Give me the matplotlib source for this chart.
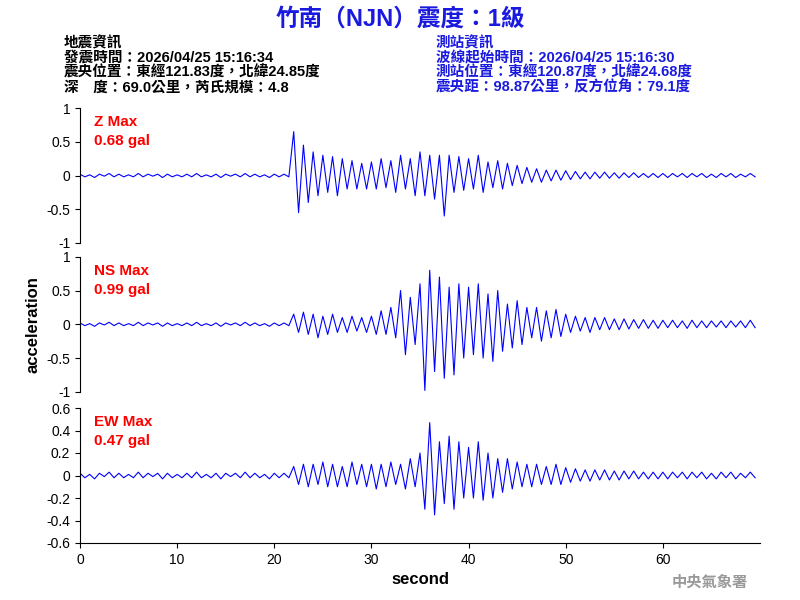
import numpy as np
import matplotlib
matplotlib.use("Agg")
import matplotlib.pyplot as plt

plt.rcParams['font.family'] = ['Liberation Sans', 'Noto Sans CJK TC', 'DejaVu Sans']

dt = 0.5
quiet = [0.02,-0.02,0.01,-0.03,0.02,-0.01,0.03,-0.02,0.02,-0.02,0.01,-0.02,0.03,-0.02,0.02,-0.01,0.02,-0.03,0.02,-0.02,0.01,-0.02,
         0.02,-0.02,0.03,-0.02,0.01,-0.02,0.02,-0.03,0.02,-0.01,0.02,-0.02,0.03,-0.02,0.02,-0.02,0.01,-0.03,0.02,-0.02,0.02,-0.02]
z_vals = quiet + [0.65,-0.55,0.45,-0.4,0.35,-0.3,0.3,-0.25,0.28,-0.3,0.25,-0.2,0.22,-0.2,0.18,-0.2,
    0.2,-0.2,0.25,-0.18,0.22,-0.25,0.3,-0.2,0.25,-0.3,0.35,-0.3,0.3,-0.35,0.3,-0.6,0.3,-0.25,0.28,-0.22,
    0.25,-0.2,0.3,-0.25,0.2,-0.18,0.22,-0.2,0.18,-0.15,0.15,-0.12,0.12,-0.1,0.1,-0.1,0.08,-0.08,0.08,-0.07,
    0.07,-0.06,0.06,-0.05,0.05,-0.05,0.05,-0.04,0.05,-0.04,0.04,-0.04,0.04,-0.03,0.04,-0.03,0.03,-0.03,0.03,-0.03,
    0.03,-0.03,0.03,-0.02,0.03,-0.03,0.03,-0.02,0.03,-0.03,0.02,-0.03,0.03,-0.02,0.03,-0.03,0.02,-0.02,0.03,-0.02]
ns_vals = quiet + [0.15,-0.12,0.18,-0.15,0.15,-0.2,0.12,-0.15,0.15,-0.12,0.1,-0.12,0.12,-0.1,0.1,-0.12,
    0.12,-0.15,0.2,-0.15,0.25,-0.2,0.5,-0.45,0.4,-0.3,0.6,-0.98,0.8,-0.7,0.7,-0.8,0.55,-0.75,0.6,-0.5,
    0.55,-0.45,0.6,-0.5,0.45,-0.55,0.5,-0.4,0.3,-0.35,0.35,-0.3,0.25,-0.2,0.25,-0.25,0.2,-0.2,0.22,-0.18,
    0.15,-0.12,0.12,-0.1,0.1,-0.12,0.1,-0.08,0.1,-0.08,0.08,-0.08,0.08,-0.07,0.07,-0.06,0.07,-0.06,0.06,-0.06,
    0.06,-0.05,0.06,-0.05,0.05,-0.06,0.06,-0.05,0.05,-0.05,0.05,-0.04,0.05,-0.05,0.05,-0.04,0.05,-0.05,0.06,-0.05]
ew_vals = quiet + [0.08,-0.08,0.1,-0.1,0.1,-0.08,0.12,-0.1,0.1,-0.1,0.08,-0.1,0.12,-0.08,0.1,-0.1,
    0.1,-0.12,0.1,-0.1,0.12,-0.08,0.1,-0.12,0.15,-0.1,0.2,-0.3,0.47,-0.35,0.3,-0.25,0.35,-0.3,0.3,-0.2,
    0.25,-0.2,0.3,-0.22,0.2,-0.2,0.15,-0.15,0.15,-0.12,0.12,-0.1,0.1,-0.1,0.1,-0.08,0.08,-0.08,0.1,-0.08,
    0.07,-0.06,0.06,-0.05,0.05,-0.05,0.05,-0.04,0.05,-0.04,0.04,-0.04,0.04,-0.03,0.04,-0.03,0.03,-0.03,0.03,-0.03,
    0.03,-0.03,0.03,-0.02,0.03,-0.03,0.03,-0.02,0.03,-0.03,0.02,-0.03,0.03,-0.02,0.03,-0.03,0.02,-0.02,0.03,-0.02]
labels = ["Z Max\n0.68 gal", "NS Max\n0.99 gal", "EW Max\n0.47 gal"]
ylims = [(-1, 1), (-1, 1), (-0.6, 0.6)]
yticks = [[-1,-0.5,0,0.5,1], [-1,-0.5,0,0.5,1], [-0.6,-0.4,-0.2,0,0.2,0.4,0.6]]

fig = plt.figure(figsize=(8, 6), dpi=100)
boxes = [(0.10, 0.595, 0.85, 0.225), (0.10, 0.347, 0.85, 0.225), (0.10, 0.095, 0.85, 0.225)]
for i, vals in enumerate([z_vals, ns_vals, ew_vals]):
    ax = fig.add_axes(boxes[i])
    t = np.arange(len(vals)) * dt
    ax.plot(t, vals, color='blue', lw=0.8)
    ax.set_xlim(0, 70)
    ax.set_ylim(*ylims[i])
    ax.set_yticks(yticks[i])
    ax.set_yticklabels([f"{v:g}" for v in yticks[i]], fontsize=10)
    ax.spines['top'].set_visible(False)
    ax.spines['right'].set_visible(False)
    if i < 2:
        ax.spines['bottom'].set_visible(False)
        ax.set_xticks([])
    else:
        ax.set_xticks([0,10,20,30,40,50,60])
        ax.tick_params(axis='x', labelsize=10)
        ax.set_xlabel("second", fontsize=12, fontweight='bold')
    ax.text(0.02, 0.95, labels[i], transform=ax.transAxes, color='red', fontsize=11,
            va='top', fontweight='bold', linespacing=1.5)
    if i == 1:
        ax.set_ylabel("acceleration", fontsize=12, fontweight='bold')

fig.text(0.5, 0.968, "竹南（NJN）震度：1級", color='#1a1adf', fontsize=17, fontweight='bold', ha='center', va='center')
left = "地震資訊\n發震時間：2026/04/25 15:16:34\n震央位置：東經121.83度，北緯24.85度\n深　度：69.0公里，芮氏規模：4.8"
right = "測站資訊\n波線起始時間：2026/04/25 15:16:30\n測站位置：東經120.87度，北緯24.68度\n震央距：98.87公里，反方位角：79.1度"
fig.text(0.08, 0.94, left, color='black', fontsize=10.5, fontweight='bold', va='top', linespacing=1.05)
fig.text(0.545, 0.94, right, color='#1a1adf', fontsize=10.5, fontweight='bold', va='top', linespacing=1.05)
fig.text(0.935, 0.03, "中央氣象署", color='#999999', fontsize=11, fontweight='bold', ha='right', va='center')
fig.savefig("out.png", dpi=100)
